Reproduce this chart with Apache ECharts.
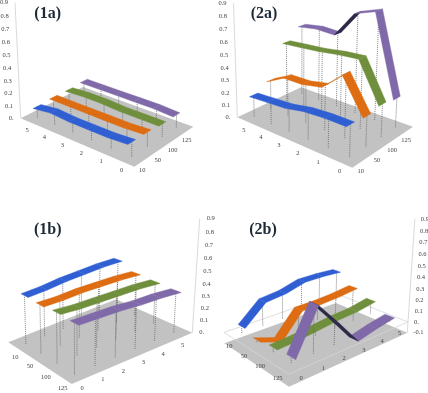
<!DOCTYPE html>
<html>
<head>
<meta charset="utf-8">
<style>html,body{margin:0;padding:0;background:#fff}#chart{width:428px;height:393px}</style>
<script src="https://cdn.jsdelivr.net/npm/echarts@6/dist/echarts.min.js"></script>
</head>
<body>
<div id="chart"></div>
<script>
const categories = ['0', '1', '2', '3', '4', '5'];
const seriesNames = ['10', '50', '100', '125'];
const ticks = [0, 0.1, 0.2, 0.3, 0.4, 0.5, 0.6, 0.7, 0.8, 0.9];
const ticks2b = [-0.1, 0, 0.1, 0.2, 0.3, 0.4, 0.5, 0.6, 0.7, 0.8, 0.9];
const colors = ['#2f5fd3', '#dd6c12', '#6f8f3c', '#8069a8'];
const darks = ['#1c2f70', '#c9782c', '#3f5320', '#2c2848'];

// value per category 0..5, one list per series (10, 50, 100, 125)
const v1a10 = [0.11, 0.1, 0.1, 0.1, 0.11, 0.09];
const v1a50 = [0.11, 0.1, 0.1, 0.1, 0.1, 0.1];
const v1a100 = [0.1, 0.1, 0.1, 0.11, 0.11, 0.1];
const v1a125 = [0.1, 0.11, 0.11, 0.11, 0.11, 0.11];
const v2a10 = [0.24, 0.24, 0.23, 0.2, 0.19, 0.18];
const v2a50 = [0.23, 0.49, 0.35, 0.32, 0.32, 0.24];
const v2a100 = [0.25, 0.55, 0.54, 0.52, 0.51, 0.5];
const v2a125 = [0.23, 0.85, 0.8, 0.6, 0.61, 0.59];
const v1b10 = [0.43, 0.43, 0.44, 0.44, 0.44, 0.43];
const v1b50 = [0.42, 0.41, 0.41, 0.4, 0.39, 0.37];
const v1b100 = [0.43, 0.41, 0.4, 0.39, 0.38, 0.36];
const v1b125 = [0.42, 0.41, 0.4, 0.38, 0.37, 0.35];
const v2b10 = [0.06, 0.23, 0.25, 0.3, 0.3, 0.29];
const v2b50 = [0.02, -0.05, 0.16, 0.16, 0.17, 0.19];
const v2b100 = [0.04, 0.05, 0.07, 0.09, 0.1, 0.13];
const v2b125 = [0.05, 0.41, 0.2, -0.02, 0.02, 0.05];

// quad = floor corners: (cat0,s10) (cat5,s10) (cat5,s125) (cat0,s125); top = axis point at z max
const panels = [
    { title: '(1a)', titlePos: [47.7, 13.5], quad: [[134.3, 166.7], [20.7, 118.3], [83, 87], [193.3, 126.7]],
      axis: [1, 0], top: [15, 2.7], vp: [128, 2300], zmin: 0, dropBase: 0, ticks: ticks, tickDx: -7, tickAlign: 'right',
      catEdge: 0, catDelta: [-2, 8], serDelta: [0, 9.5], vShift: 0, data: [v1a10, v1a50, v1a100, v1a125] },
    { title: '(2a)', titlePos: [264, 13.5], quad: [[352.3, 167.7], [237.3, 117.3], [301, 87.3], [413, 126.7]],
      axis: [1, 0], top: [231.3, 3.3], vp: [300, 2000], zmin: 0, dropBase: 0, ticks: ticks, tickDx: -7, tickAlign: 'right',
      catEdge: 0, catDelta: [-1.5, 9], serDelta: [0, 9], vShift: 0, data: [v2a10, v2a50, v2a100, v2a125] },
    { title: '(1b)', titlePos: [47.7, 230], quad: [[8.3, 342.3], [116, 299.3], [192.3, 332.7], [71.7, 384]],
      axis: [1, 1], top: [199, 218.7], vp: [78, 2096], zmin: 0, dropBase: 0, ticks: ticks, tickDx: 7, tickAlign: 'left',
      catEdge: 1, catDelta: [0, 9], serDelta: [0, 10], vShift: 0.02, data: [v1b10, v1b50, v1b100, v1b125] },
    { title: '(2b)', titlePos: [263, 229.5], quad: [[224.3, 343.3], [336, 303], [407.3, 332.7], [289, 386.7]],
      axis: [1, 1], top: [413, 218.7], vp: [290, 2100], zmin: -0.1, dropBase: 0, ticks: ticks2b, tickDx: 6, tickAlign: 'left',
      catEdge: 1, catDelta: [0.5, -3], serDelta: [-2, -2], vShift: 0, data: [v2b10, v2b50, v2b100, v2b125] }
];

// floor homography from the unit square, then a vertical vanishing point for z
const makeCamera = (p) => {
    const [q0, q1, q2, q3] = p.quad;
    const dx1 = q1[0] - q2[0], dx2 = q3[0] - q2[0], sx = q0[0] - q1[0] + q2[0] - q3[0];
    const dy1 = q1[1] - q2[1], dy2 = q3[1] - q2[1], sy = q0[1] - q1[1] + q2[1] - q3[1];
    const den = dx1 * dy2 - dx2 * dy1;
    const g = (sx * dy2 - dx2 * sy) / den;
    const h = (dx1 * sy - sx * dy1) / den;
    const a = q1[0] - q0[0] + g * q1[0], b = q3[0] - q0[0] + h * q3[0], c = q0[0];
    const d = q1[1] - q0[1] + g * q1[1], e = q3[1] - q0[1] + h * q3[1], f = q0[1];
    const floor = (u, v) => [a * u + b * v + c, d * u + e * v + f, g * u + h * v + 1];
    const [ax, ay, aw] = floor(p.axis[0], p.axis[1]);
    const fx = ax / aw, fy = ay / aw;
    const ratio = Math.hypot(p.top[0] - p.vp[0], p.top[1] - p.vp[1]) / Math.hypot(fx - p.vp[0], fy - p.vp[1]);
    const k = (aw / ratio - aw) / (0.9 - p.zmin);
    return (u, v, z) => {
        const [X, Y, W] = floor(u, v);
        const t = (z - p.zmin) * k;
        const w = W + t;
        return [(X + t * p.vp[0]) / w, (Y + t * p.vp[1]) / w];
    };
};

const catU = (i) => (i + 0.5) / categories.length;
const serV = (j) => (j + 0.5) / seriesNames.length;
const halfWidth = 0.06;
const serifFont = '"Liberation Serif", serif';

const labelEl = (api, pt, text, align, size) => {
    const c = api.coord(pt);
    return {
        type: 'text',
        x: c[0],
        y: c[1],
        style: { text: text, fill: '#444', font: size + 'px ' + serifFont, textAlign: align, textVerticalAlign: 'middle' }
    };
};

const polyEl = (api, pts, style) => ({
    type: 'polygon',
    shape: { points: pts.map((pt) => api.coord(pt)) },
    style: style
});

const lineEl = (api, a, b, style) => {
    const ca = api.coord(a), cb = api.coord(b);
    return { type: 'line', shape: { x1: ca[0], y1: ca[1], x2: cb[0], y2: cb[1] }, style: style };
};

const signedArea = (pts) => {
    let s = 0;
    pts.forEach((pt, n) => {
        const q = pts[(n + 1) % pts.length];
        s += pt[0] * q[1] - q[0] * pt[1];
    });
    return s;
};

const frameSeries = (p, cam) => ({
    type: 'custom',
    coordinateSystem: 'cartesian2d',
    silent: true,
    clip: false,
    data: [[0]],
    renderItem: (params, api) => {
        const children = [];
        children.push(polyEl(api, [cam(0, 0, p.zmin), cam(1, 0, p.zmin), cam(1, 1, p.zmin), cam(0, 1, p.zmin)], { fill: '#c2c2c2' }));
        if (p.zmin < 0) {
            children.push(polyEl(api, [cam(0, 0, 0), cam(1, 0, 0), cam(1, 1, 0), cam(0, 1, 0)], { fill: 'none', stroke: '#d6d6d6', lineWidth: 0.8 }));
        }
        children.push(lineEl(api, cam(p.axis[0], p.axis[1], p.zmin), cam(p.axis[0], p.axis[1], 0.9), { stroke: '#d0d0d0', lineWidth: 0.8 }));
        p.ticks.forEach((t) => {
            const pt = cam(p.axis[0], p.axis[1], t);
            const text = t === 0 ? '0.' : String(t);
            children.push(labelEl(api, [pt[0] + p.tickDx, pt[1]], text, p.tickAlign, 6.5));
        });
        categories.forEach((name, i) => {
            const pt = cam(catU(i), p.catEdge, p.zmin);
            children.push(labelEl(api, [pt[0] + p.catDelta[0], pt[1] + p.catDelta[1]], name, 'center', 6.5));
        });
        seriesNames.forEach((name, j) => {
            const pt = cam(0, serV(j), p.zmin);
            children.push(labelEl(api, [pt[0] + p.serDelta[0], pt[1] + p.serDelta[1]], name, 'center', 6.5));
        });
        const tp = api.coord(p.titlePos);
        children.push({
            type: 'text',
            x: tp[0],
            y: tp[1],
            style: { text: p.title, fill: '#1f2a38', font: 'bold 16px ' + serifFont, textAlign: 'center', textVerticalAlign: 'middle' }
        });
        return { type: 'group', children: children };
    }
});

const dropSeries = (p, cam, j) => ({
    type: 'custom',
    coordinateSystem: 'cartesian2d',
    silent: true,
    clip: false,
    data: p.data[j].map((val, i) => [i, val]),
    renderItem: (params, api) => {
        const u = catU(api.value(0));
        const v = serV(j) + p.vShift;
        return lineEl(api, cam(u, v, p.dropBase), cam(u, v, api.value(1)), { stroke: '#666', lineWidth: 0.8, lineDash: [1, 1] });
    }
});

const ribbonSeries = (p, cam, j) => {
    const vals = p.data[j];
    const segs = [];
    for (let i = vals.length - 1; i > 0; i -= 1) {
        segs.push([i, vals[i], vals[i - 1]]);
    }
    const floorSign = Math.sign(signedArea([cam(1, 0, p.zmin), cam(0, 0, p.zmin), cam(0, 1, p.zmin), cam(1, 1, p.zmin)]));
    return {
        type: 'custom',
        coordinateSystem: 'cartesian2d',
        silent: true,
        clip: false,
        data: segs,
        renderItem: (params, api) => {
            const i = api.value(0);
            const u1 = catU(i), u0 = catU(i - 1);
            const v = serV(j) + p.vShift;
            const pts = [
                cam(u1, v - halfWidth, api.value(1)),
                cam(u0, v - halfWidth, api.value(2)),
                cam(u0, v + halfWidth, api.value(2)),
                cam(u1, v + halfWidth, api.value(1))
            ];
            const flipped = Math.sign(signedArea(pts)) !== floorSign;
            const fill = flipped ? darks[j] : colors[j];
            return polyEl(api, pts, { fill: fill, stroke: fill, lineWidth: 0.4 });
        }
    };
};

const series = [];
panels.forEach((p) => {
    const cam = makeCamera(p);
    series.push(frameSeries(p, cam));
    // the a panels look from the 10 side, the b panels from the 125 side
    const order = p.title.includes('a') ? [3, 2, 1, 0] : [0, 1, 2, 3];
    order.forEach((j) => {
        series.push(dropSeries(p, cam, j));
        series.push(ribbonSeries(p, cam, j));
    });
});

const chart = echarts.init(document.getElementById('chart'));
chart.setOption({
    animation: false,
    backgroundColor: '#fff',
    grid: { left: 0, right: 0, top: 0, bottom: 0 },
    xAxis: { type: 'value', min: 0, max: 428, show: false },
    yAxis: { type: 'value', min: 0, max: 393, inverse: true, show: false },
    series: series
});
</script>
</body>
</html>
